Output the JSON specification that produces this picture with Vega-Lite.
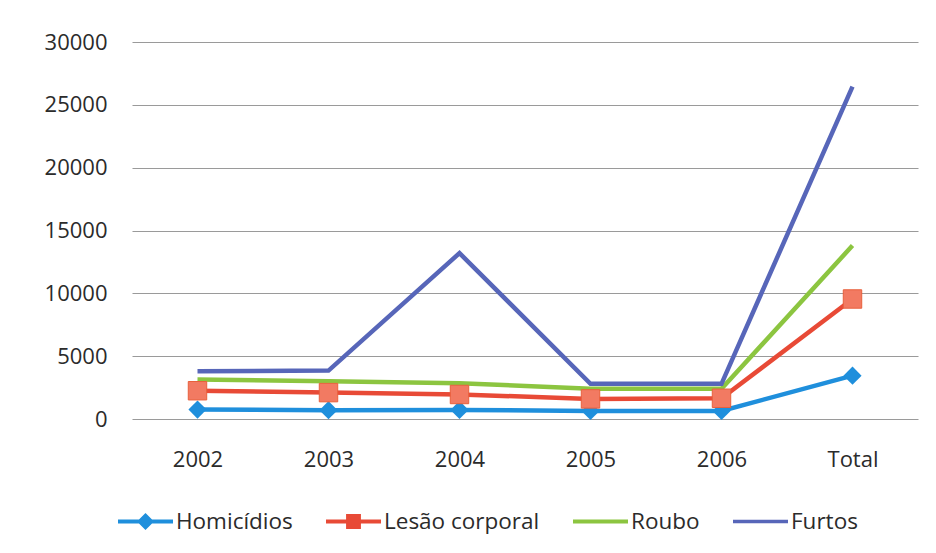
{
  "$schema": "https://vega.github.io/schema/vega-lite/v6.json",
  "autosize": "none",
  "width": 786,
  "height": 377,
  "padding": {"left": 132, "top": 42, "right": 18, "bottom": 134},
  "background": "white",
  "config": {
    "view": {"stroke": null},
    "font": "Open Sans",
    "axis": {"labelFont": "Open Sans", "labelFontSize": 22, "labelColor": "#2b2b2b"}
  },
  "data": {
    "values": [
      {"ano": "2002", "serie": "Homicídios", "casos": 750},
      {"ano": "2003", "serie": "Homicídios", "casos": 700},
      {"ano": "2004", "serie": "Homicídios", "casos": 720},
      {"ano": "2005", "serie": "Homicídios", "casos": 640},
      {"ano": "2006", "serie": "Homicídios", "casos": 640},
      {"ano": "Total", "serie": "Homicídios", "casos": 3450},
      {"ano": "2002", "serie": "Lesão corporal", "casos": 2250},
      {"ano": "2003", "serie": "Lesão corporal", "casos": 2100},
      {"ano": "2004", "serie": "Lesão corporal", "casos": 1950},
      {"ano": "2005", "serie": "Lesão corporal", "casos": 1600},
      {"ano": "2006", "serie": "Lesão corporal", "casos": 1650},
      {"ano": "Total", "serie": "Lesão corporal", "casos": 9550},
      {"ano": "2002", "serie": "Roubo", "casos": 3150},
      {"ano": "2003", "serie": "Roubo", "casos": 3000},
      {"ano": "2004", "serie": "Roubo", "casos": 2850},
      {"ano": "2005", "serie": "Roubo", "casos": 2400},
      {"ano": "2006", "serie": "Roubo", "casos": 2400},
      {"ano": "Total", "serie": "Roubo", "casos": 13800},
      {"ano": "2002", "serie": "Furtos", "casos": 3800},
      {"ano": "2003", "serie": "Furtos", "casos": 3850},
      {"ano": "2004", "serie": "Furtos", "casos": 13200},
      {"ano": "2005", "serie": "Furtos", "casos": 2800},
      {"ano": "2006", "serie": "Furtos", "casos": 2800},
      {"ano": "Total", "serie": "Furtos", "casos": 26450}
    ]
  },
  "encoding": {
    "x": {
      "field": "ano",
      "type": "nominal",
      "sort": ["2002", "2003", "2004", "2005", "2006", "Total"],
      "scale": {"type": "point", "padding": 0.5},
      "axis": {"title": null, "domain": false, "ticks": false, "grid": false, "labelAngle": 0, "labelPadding": 30}
    },
    "y": {
      "field": "casos",
      "type": "quantitative",
      "scale": {"domain": [0, 30000], "nice": false},
      "axis": {
        "title": null,
        "values": [0, 5000, 10000, 15000, 20000, 25000, 30000],
        "format": "d",
        "domain": false,
        "ticks": false,
        "grid": true,
        "gridColor": "#9a9a9a",
        "gridWidth": 1.2,
        "labelPadding": 25
      }
    }
  },
  "layer": [
    {
      "mark": {"type": "line", "strokeWidth": 4.5},
      "encoding": {
        "stroke": {
          "field": "serie",
          "type": "nominal",
          "scale": {
            "domain": ["Furtos", "Roubo", "Lesão corporal", "Homicídios"],
            "range": ["#5766b9", "#8cc540", "#e84a36", "#1f8fdc"]
          },
          "legend": null
        }
      }
    },
    {
      "transform": [{"filter": "datum.serie === 'Homicídios'"}],
      "mark": {"type": "point", "shape": "diamond", "filled": true, "opacity": 1, "size": 330, "fill": "#1f8fdc"}
    },
    {
      "transform": [{"filter": "datum.serie === 'Lesão corporal'"}],
      "mark": {"type": "point", "shape": "square", "filled": true, "opacity": 1, "size": 340, "fill": "#f27a62", "stroke": "#e8603c", "strokeWidth": 1}
    },
    {
      "mark": {"type": "point", "filled": true, "opacity": 1, "size": 3025, "clip": true},
      "encoding": {
        "y": {"datum": -10000, "type": "quantitative"},
        "shape": {
          "field": "serie",
          "type": "nominal",
          "scale": {
            "domain": ["Homicídios", "Lesão corporal", "Roubo", "Furtos"],
            "range": [
              "M-1,-0.07L1,-0.07L1,0.07L-1,0.07Z M0,-0.31L0.31,0L0,0.31L-0.31,0Z",
              "M-1,-0.07L1,-0.07L1,0.07L-1,0.07Z M-0.27,-0.27L0.27,-0.27L0.27,0.27L-0.27,0.27Z",
              "M-1,-0.07L1,-0.07L1,0.07L-1,0.07Z",
              "M-1,-0.06L1,-0.06L1,0.06L-1,0.06Z"
            ]
          },
          "legend": {
            "title": null,
            "orient": "none",
            "direction": "horizontal",
            "legendX": -14,
            "legendY": 452,
            "symbolSize": 3025,
            "symbolStrokeWidth": 0,
            "labelFont": "Open Sans",
            "labelFontSize": 22.5,
            "labelColor": "#2b2b2b",
            "labelOffset": 3,
            "columnPadding": 33
          }
        },
        "color": {
          "field": "serie",
          "type": "nominal",
          "scale": {
            "domain": ["Homicídios", "Lesão corporal", "Roubo", "Furtos"],
            "range": ["#1f8fdc", "#e84a36", "#8cc540", "#5766b9"]
          },
          "legend": {
            "title": null,
            "orient": "none",
            "direction": "horizontal",
            "legendX": -14,
            "legendY": 452,
            "symbolSize": 3025,
            "symbolStrokeWidth": 0,
            "labelFont": "Open Sans",
            "labelFontSize": 22.5,
            "labelColor": "#2b2b2b",
            "labelOffset": 3,
            "columnPadding": 33
          }
        }
      }
    }
  ]
}
